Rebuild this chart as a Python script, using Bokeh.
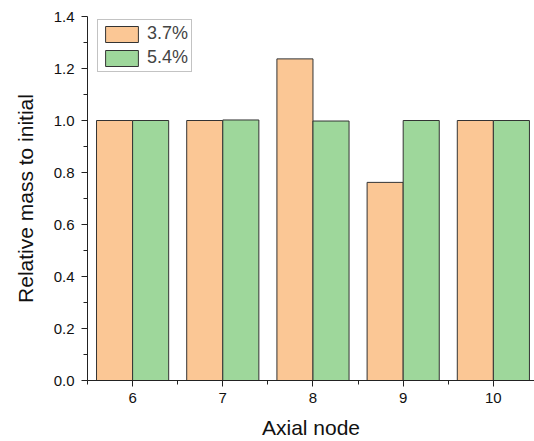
from bokeh.plotting import figure
from bokeh.models import ColumnDataSource, Range1d, FixedTicker, Legend, LegendItem, CustomJSTickFormatter
from bokeh.transform import dodge
from bokeh.embed import file_html
from bokeh.resources import INLINE

nodes = [6, 7, 8, 9, 10]
series_37 = [1.0, 1.0, 1.237, 0.762, 1.0]
series_54 = [1.0, 1.002, 0.998, 1.0, 1.0]
labels = ["3.7%", "5.4%"]
y_ticks = [0.0, 0.2, 0.4, 0.6, 0.8, 1.0, 1.2, 1.4]

src = ColumnDataSource(dict(node=nodes, a=series_37, b=series_54))

FONT = "Liberation Sans"
p = figure(output_backend="svg", toolbar_location=None,
           frame_width=447, frame_height=364,
           min_border_left=87, min_border_top=16, min_border_right=0, min_border_bottom=58,
           x_range=Range1d(5.5, 10.456), y_range=Range1d(0, 1.4))

r1 = p.vbar(x=dodge('node', -0.2), top='a', width=0.4, source=src,
            fill_color="#FBC795", line_color="#333333", line_width=1)
r2 = p.vbar(x=dodge('node', 0.2), top='b', width=0.4, source=src,
            fill_color="#9ED79B", line_color="#333333", line_width=1)

p.xgrid.visible = False
p.ygrid.visible = False
p.outline_line_color = None

p.xaxis.ticker = FixedTicker(ticks=nodes, minor_ticks=[5.5, 6.5, 7.5, 8.5, 9.5, 10.5])
p.yaxis.ticker = FixedTicker(ticks=y_ticks, minor_ticks=[0.1, 0.3, 0.5, 0.7, 0.9, 1.1, 1.3])
p.yaxis.formatter = CustomJSTickFormatter(code="return tick.toFixed(1);")

for ax in (p.xaxis[0], p.yaxis[0]):
    ax.axis_line_color = "#222222"
    ax.major_tick_line_color = "#222222"
    ax.minor_tick_line_color = "#222222"
    ax.major_tick_out = 6
    ax.major_tick_in = 0
    ax.minor_tick_out = 4
    ax.minor_tick_in = 0
    ax.major_label_text_font = FONT
    ax.major_label_text_font_size = "15px"
    ax.major_label_text_color = "#111111"
    ax.axis_label_text_font = FONT
    ax.axis_label_text_font_size = "21px"
    ax.axis_label_text_font_style = "normal"
    ax.axis_label_text_color = "#111111"

p.xaxis.axis_label = "Axial node"
p.yaxis.axis_label = "Relative mass to initial"
p.xaxis.major_label_standoff = 6
p.yaxis.major_label_standoff = 7
p.xaxis.axis_label_standoff = 10
p.yaxis.axis_label_standoff = 14

legend = Legend(items=[LegendItem(label=labels[0], renderers=[r1]),
                       LegendItem(label=labels[1], renderers=[r2])],
                location=(10, 308), margin=0)
legend.glyph_width = 41
legend.glyph_height = 20
legend.label_text_font = FONT
legend.label_text_font_size = "18px"
legend.label_standoff = 5
legend.label_height = 20
legend.padding = 3
legend.spacing = 3
legend.border_line_color = "#888888"
legend.border_line_width = 1
legend.background_fill_alpha = 1
p.add_layout(legend)

open("out.html", "w").write(file_html(p, INLINE))
